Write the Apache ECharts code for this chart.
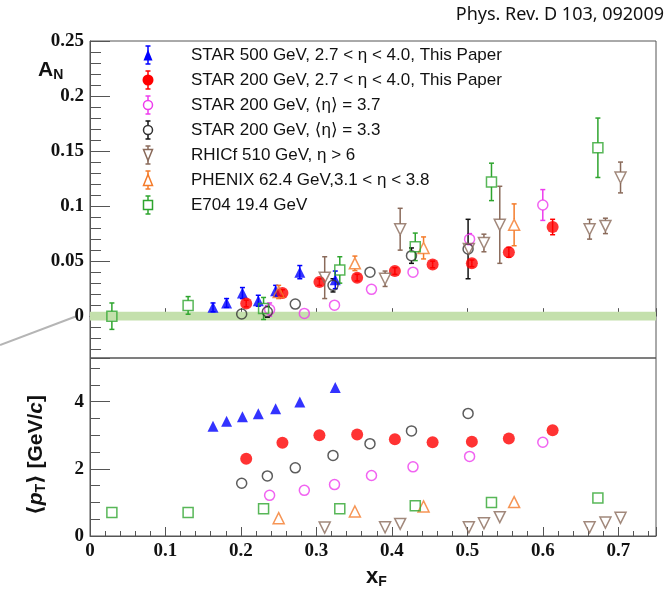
<!DOCTYPE html>
<html><head><meta charset="utf-8">
<script src="https://cdn.jsdelivr.net/npm/echarts@6/dist/echarts.min.js"></script>
<style>html,body{margin:0;padding:0;background:#fff}#c{width:671px;height:593px}</style>
</head><body><div id="c"></div>
<script>
// ---------------- data ----------------
const star500_xF    = [0.163, 0.181, 0.202, 0.223, 0.246, 0.278, 0.325];
const star500_AN    = [0.008, 0.012, 0.021, 0.014, 0.023, 0.040, 0.033];
const star500_err   = [0.004, 0.004, 0.005, 0.005, 0.005, 0.006, 0.008];
const star500_pT    = [3.27, 3.42, 3.55, 3.64, 3.79, 3.99, 4.42];

const star200_xF    = [0.207, 0.255, 0.304, 0.354, 0.404, 0.454, 0.506, 0.555, 0.613];
const star200_AN    = [0.0115, 0.021, 0.031, 0.035, 0.041, 0.047, 0.048, 0.058, 0.081];
const star200_err   = [0.003, 0.003, 0.003, 0.003, 0.003, 0.003, 0.003, 0.0045, 0.007];
const star200_pT    = [2.30, 2.78, 3.00, 3.02, 2.88, 2.79, 2.81, 2.90, 3.15];

const eta37_xF      = [0.238, 0.284, 0.324, 0.373, 0.428, 0.503, 0.600];
const eta37_AN      = [0.006, 0.0025, 0.010, 0.0244, 0.040, 0.070, 0.101];
const eta37_err     = [0.006, 0.002, 0.002, 0.002, 0.003, 0.005, 0.014];
const eta37_pT      = [1.21, 1.36, 1.53, 1.80, 2.06, 2.37, 2.79];

const eta33_xF      = [0.201, 0.235, 0.272, 0.322, 0.371, 0.426, 0.501];
const eta33_AN      = [0.002, 0.004, 0.011, 0.028, 0.040, 0.055, 0.061];
const eta33_err     = [0.002, 0.005, 0.002, 0.006, 0.004, 0.007, 0.027];
const eta33_pT      = [1.57, 1.79, 2.03, 2.40, 2.75, 3.13, 3.65];

const rhicf_xF      = [0.311, 0.391, 0.411, 0.502, 0.522, 0.543, 0.662, 0.683, 0.703];
const rhicf_AN      = [0.035, 0.034, 0.079, 0.061, 0.0665, 0.083, 0.079, 0.082, 0.126];
const rhicf_err     = [0.019, 0.007, 0.019, 0.004, 0.008, 0.035, 0.009, 0.007, 0.014];
const rhicf_pT      = [0.25, 0.26, 0.36, 0.26, 0.38, 0.56, 0.26, 0.40, 0.54];

const phenix_xF     = [0.250, 0.351, 0.442, 0.562];
const phenix_AN     = [0.022, 0.048, 0.062, 0.083];
const phenix_err    = [0.006, 0.0066, 0.010, 0.019];
const phenix_pT     = [0.53, 0.73, 0.88, 1.01];

const e704_xF       = [0.029, 0.130, 0.230, 0.331, 0.431, 0.532, 0.673];
const e704_AN       = [0.000, 0.0098, 0.007, 0.042, 0.063, 0.122, 0.153];
const e704_err      = [0.012, 0.008, 0.010, 0.012, 0.0125, 0.017, 0.027];
const e704_pT       = [0.70, 0.70, 0.81, 0.81, 0.90, 1.00, 1.13];

const legendLabels = [
  'STAR 500 GeV, 2.7 < \u03b7 < 4.0, This Paper',
  'STAR 200 GeV, 2.7 < \u03b7 < 4.0, This Paper',
  'STAR 200 GeV, \u27e8\u03b7\u27e9 = 3.7',
  'STAR 200 GeV, \u27e8\u03b7\u27e9 = 3.3',
  'RHICf 510 GeV, \u03b7 > 6',
  'PHENIX 62.4 GeV,3.1 < \u03b7 < 3.8',
  'E704 19.4 GeV'
];
const anTicks    = [0, 0.05, 0.1, 0.15, 0.2, 0.25];
const anMinor    = [-0.03, -0.02, -0.01, 0.01, 0.02, 0.03, 0.04, 0.06, 0.07, 0.08, 0.09, 0.11, 0.12, 0.13, 0.14, 0.16, 0.17, 0.18, 0.19, 0.21, 0.22, 0.23, 0.24];

// ---------------- styles ----------------
const sets = [
  {x: star500_xF, a: star500_AN, e: star500_err, p: star500_pT, color: '#0000ff', bar: '#0000ff', sym: 'triangle', rot: 0, fill: true, size: 11},
  {x: star200_xF, a: star200_AN, e: star200_err, p: star200_pT, color: '#ff0000', bar: '#ff0000', sym: 'circle', rot: 0, fill: true, size: 12},
  {x: eta37_xF, a: eta37_AN, e: eta37_err, p: eta37_pT, color: '#ee3cee', bar: '#ee3cee', sym: 'circle', rot: 0, fill: false, size: 10},
  {x: eta33_xF, a: eta33_AN, e: eta33_err, p: eta33_pT, color: '#333333', bar: '#111111', sym: 'circle', rot: 0, fill: false, size: 10},
  {x: rhicf_xF, a: rhicf_AN, e: rhicf_err, p: rhicf_pT, color: '#8a6a5a', bar: '#8a6a5a', sym: 'triangle', rot: 180, fill: false, size: 11},
  {x: phenix_xF, a: phenix_AN, e: phenix_err, p: phenix_pT, color: '#f47b2a', bar: '#f47b2a', sym: 'triangle', rot: 0, fill: false, size: 11},
  {x: e704_xF, a: e704_AN, e: e704_err, p: e704_pT, color: '#2ea52e', bar: '#2ea52e', sym: 'rect', rot: 0, fill: false, size: 10}
];

function errRender(color, r) {
  return function (params, api) {
    const x = api.value(0), y = api.value(1), e = api.value(2);
    const c = api.coord([x, y]);
    const hi = api.coord([x, y + e]);
    const lo = api.coord([x, y - e]);
    const st = {stroke: color, lineWidth: 1.5};
    const ch = [];
    if (hi[1] < c[1] - r) {
      ch.push({type: 'line', shape: {x1: c[0], y1: hi[1], x2: c[0], y2: c[1] - r}, style: st});
      ch.push({type: 'line', shape: {x1: c[0] - 2.5, y1: hi[1], x2: c[0] + 2.5, y2: hi[1]}, style: st});
    }
    if (lo[1] > c[1] + r) {
      ch.push({type: 'line', shape: {x1: c[0], y1: c[1] + r, x2: c[0], y2: lo[1]}, style: st});
      ch.push({type: 'line', shape: {x1: c[0] - 2.5, y1: lo[1], x2: c[0] + 2.5, y2: lo[1]}, style: st});
    }
    return {type: 'group', children: ch};
  };
}

const series = [];
// green band around zero
series.push({
  type: 'scatter', xAxisIndex: 0, yAxisIndex: 0, data: [], silent: true,
  markArea: {silent: true, itemStyle: {color: '#c4e0ac'}, data: [[{yAxis: -0.004}, {yAxis: 0.004}]]}
});
sets.forEach((s, i) => {
  const top = s.x.map((v, k) => [v, s.a[k], s.e[k]]);
  const bot = s.x.map((v, k) => [v, s.p[k]]);
  const item = s.fill ? {color: s.color} : {color: 'rgba(255,255,255,0)', borderColor: s.color, borderWidth: 1.5};
  series.push({
    type: 'custom', xAxisIndex: 0, yAxisIndex: 0, data: top, z: 3,
    renderItem: errRender(s.bar, s.fill ? 0 : s.size / 2), silent: true
  });
  series.push({
    type: 'scatter', xAxisIndex: 0, yAxisIndex: 0, data: top.map(d => [d[0], d[1]]), z: 4,
    symbol: s.sym, symbolRotate: s.rot, symbolSize: s.size, itemStyle: item, silent: true
  });
  series.push({
    type: 'scatter', xAxisIndex: 1, yAxisIndex: 2, data: bot, z: 4,
    symbol: s.sym, symbolRotate: s.rot, symbolSize: s.size, itemStyle: item, silent: true
  });
});

// legend graphic
const legend = [];
sets.forEach((s, i) => {
  const cy = 55 + 25 * i, cx = 148;
  const st = {stroke: s.bar, lineWidth: 1.5};
  legend.push({type: 'line', shape: {x1: cx, y1: cy - 9, x2: cx, y2: cy + 9}, style: st});
  legend.push({type: 'line', shape: {x1: cx - 2.5, y1: cy - 9, x2: cx + 2.5, y2: cy - 9}, style: st});
  legend.push({type: 'line', shape: {x1: cx - 2.5, y1: cy + 9, x2: cx + 2.5, y2: cy + 9}, style: st});
  const fillStyle = s.fill ? {fill: s.color} : {fill: '#fff', stroke: s.color, lineWidth: 1.5};
  const h = s.size / 2;
  let shape;
  if (s.sym === 'circle') shape = {type: 'circle', shape: {cx: cx, cy: cy, r: h - 0.5}, style: fillStyle};
  else if (s.sym === 'rect') shape = {type: 'rect', shape: {x: cx - h + 0.5, y: cy - h + 0.5, width: s.size - 1, height: s.size - 1}, style: fillStyle};
  else if (s.rot === 180) shape = {type: 'polygon', shape: {points: [[cx - h + 1, cy - h], [cx + h - 1, cy - h], [cx, cy + h]]}, style: fillStyle};
  else shape = {type: 'polygon', shape: {points: [[cx - h + 1, cy + h], [cx + h - 1, cy + h], [cx, cy - h]]}, style: fillStyle};
  legend.push(shape);
  legend.push({type: 'text', x: 191, y: cy, style: {text: legendLabels[i], font: '17px "Liberation Sans", "DejaVu Sans", sans-serif', fill: '#111', verticalAlign: 'middle'}});
});

const labelFont = {fontFamily: '"Liberation Serif", serif', fontWeight: 'bold', fontSize: 19, color: '#111'};
const axisCol = '#555';

const option = {
  animation: false,
  backgroundColor: '#fff',
  grid: [
    {left: 90, right: 15, top: 41, height: 317, show: true, borderColor: axisCol, borderWidth: 1, backgroundColor: 'transparent'},
    {left: 90, right: 15, top: 358, height: 178, show: true, borderColor: axisCol, borderWidth: 1, backgroundColor: 'transparent'}
  ],
  xAxis: [
    {type: 'value', gridIndex: 0, min: 0, max: 0.75, interval: 0.1,
     axisLine: {lineStyle: {color: axisCol}}, axisLabel: {show: false},
     axisTick: {inside: true, length: 8, lineStyle: {color: axisCol}},
     minorTick: {show: true, splitNumber: 5, length: 4, lineStyle: {color: axisCol}},
     splitLine: {show: false}},
    {type: 'value', gridIndex: 1, min: 0, max: 0.75, interval: 0.1,
     axisLine: {lineStyle: {color: axisCol}},
     axisLabel: Object.assign({margin: 6, showMaxLabel: false, formatter: v => String(+v.toFixed(2))}, labelFont),
     axisTick: {inside: true, length: 9, lineStyle: {color: axisCol}},
     minorTick: {show: true, splitNumber: 5, length: 5, lineStyle: {color: axisCol}},
     splitLine: {show: false}}
  ],
  yAxis: [
    {type: 'value', gridIndex: 0, min: -0.038, max: 0.25,
     axisLine: {show: true, lineStyle: {color: axisCol}},
     axisTick: {inside: true, length: 20, customValues: anTicks, lineStyle: {color: axisCol}},
     axisLabel: Object.assign({margin: 6, customValues: anTicks, formatter: v => String(+(+v).toFixed(2))}, labelFont),
     splitLine: {show: false}},
    {type: 'value', gridIndex: 0, min: -0.038, max: 0.25, position: 'left',
     axisLine: {show: false}, axisLabel: {show: false},
     axisTick: {show: true, inside: true, length: 11, customValues: anMinor, lineStyle: {color: axisCol}},
     splitLine: {show: false}},
    {type: 'value', gridIndex: 1, min: 0, max: 5.3, interval: 2,
     axisLine: {show: true, lineStyle: {color: axisCol}},
     axisTick: {inside: true, length: 20, lineStyle: {color: axisCol}},
     minorTick: {show: true, splitNumber: 4, length: 10, lineStyle: {color: axisCol}},
     axisLabel: Object.assign({margin: 6, showMaxLabel: false}, labelFont),
     splitLine: {show: false}}
  ],
  graphic: [
    {type: 'line', shape: {x1: 0, y1: 345, x2: 77, y2: 316}, style: {stroke: '#b5b5b5', lineWidth: 2}, silent: true},
    {type: 'text', x: 664, y: 15, style: {text: 'Phys. Rev. D 103, 092009', font: '18px "Noto Sans", sans-serif', fill: '#111', align: 'right', verticalAlign: 'middle'}},
    {type: 'text', x: 38, y: 70, style: {text: '{a|A}{b|N}', rich: {a: {font: 'bold 21px "Liberation Sans", sans-serif', fill: '#111'}, b: {font: 'bold 14px "Liberation Sans", sans-serif', fill: '#111', padding: [10, 0, 0, 0]}}, verticalAlign: 'middle'}},
    {type: 'text', x: 366, y: 577, style: {text: '{a|x}{b|F}', rich: {a: {font: 'bold 22px "Liberation Sans", sans-serif', fill: '#111'}, b: {font: 'bold 14px "Liberation Sans", sans-serif', fill: '#111', padding: [10, 0, 0, 0]}}, verticalAlign: 'middle'}},
    {type: 'text', x: 36, y: 455, rotation: Math.PI / 2, style: {
      text: '{a|\u27e8}{p|p}{s|T}{a|\u27e9 [GeV/}{p|c}{a|]}', align: 'center', verticalAlign: 'middle',
      rich: {a: {font: 'bold 21px "Liberation Sans", "DejaVu Sans", sans-serif', fill: '#111'},
             p: {font: 'italic bold 21px "Liberation Sans", sans-serif', fill: '#111'},
             s: {font: 'bold 14px "Liberation Sans", sans-serif', fill: '#111', padding: [10, 0, 0, 0]}}}},
    {type: 'group', children: legend}
  ],
  series: series
};
const chart = echarts.init(document.getElementById('c'), null, {renderer: 'canvas'});
chart.setOption(option);
</script>
</body></html>
